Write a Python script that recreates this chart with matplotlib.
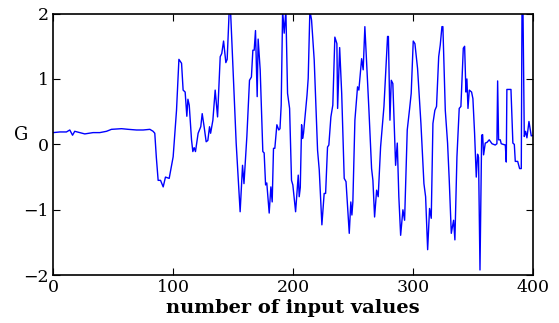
import matplotlib.pyplot as plt

# keypoints
x_vals = [0, 5.6, 11.1, 13.9, 16.2, 18, 22.2, 26.4, 33.3, 38.9, 44.5, 48.6, 57, 62.6,
          69.5, 75, 80.6, 83.3, 84.7, 86, 87.5, 89.5, 91.7, 93.6, 96.7, 100, 102.8,
          104.8, 107, 108.3, 110, 111.4, 112.3, 113.4, 115.3, 116.4, 117.5, 118.6,
          120.8, 123, 124.2, 125.8, 127.5, 128.9, 130.3, 131.2, 133.1, 135, 137,
          139.2, 140.5, 142, 143.9, 145, 146.7, 147.8, 152.5, 155.8, 157.8, 159,
          161.4, 163.6, 165.2, 166.4, 167.5, 168.6, 170, 170.8, 172.5, 174.7, 175.8,
          177, 178, 180, 181.4, 182.5, 183.6, 184.7, 186.4, 188, 189, 190, 191.2,
          192.5, 193.9, 195.3, 197, 198.6, 199.7, 202, 204.2, 205, 205.9, 207,
          207.8, 208.6, 211.5, 212.5, 213.9, 215.3, 217.5, 220.3, 221.7, 223.9,
          225.8, 227, 228.6, 229.7, 231.4, 233, 234.7, 236.4, 237, 238.7, 240.4,
          242.5, 244, 246.7, 248, 248.9, 249.7, 251.4, 253.6, 254.7, 257, 258.3,
          259.7, 263.1, 265.3, 266.4, 267.8, 269.5, 270.8, 272.8, 275.6, 278.6,
          279.3, 280.6, 281.7, 283, 285.3, 286.7, 288, 289.5, 291.4, 292.8, 295,
          297, 298.3, 300, 301.4, 303.6, 306.4, 308.9, 310.3, 312, 313.6, 315,
          316.4, 318, 319.4, 321.2, 322.5, 323.9, 324.7, 326.7, 328.6, 330, 331.7,
          333.6, 334.7, 336.4, 338.3, 339.7, 341.7, 342.8, 343.9, 344.7, 345.6,
          346.7, 348.6, 349.7, 351.1, 352.5, 353.6, 354.4, 355.6, 357, 357.8,
          358.6, 360, 361.4, 363.3, 365.6, 368.3, 369.7, 370.3, 371.1, 372.5,
          373.3, 376.7, 377.5, 378, 380.8, 381.4, 383, 384.2, 385, 387, 388.6, 390,
          390.6, 391.4, 392.5, 393.6, 394.7, 396.4, 398.3, 400]
g_vals = [0.18, 0.19, 0.19, 0.22, 0.14, 0.2, 0.18, 0.16, 0.18, 0.18, 0.2, 0.23, 0.24,
          0.23, 0.22, 0.22, 0.23, 0.2, 0.17, -0.2, -0.55, -0.55, -0.65, -0.5, -0.52,
          -0.19, 0.52, 1.3, 1.24, 0.83, 0.8, 0.43, 0.69, 0.6, 0.07, -0.11, -0.05,
          -0.11, 0.17, 0.27, 0.47, 0.27, 0.04, 0.06, 0.27, 0.17, 0.37, 0.83, 0.42,
          1.34, 1.39, 1.58, 1.25, 1.3, 2.05, 2.05, 0.02, -1.03, -0.32, -0.6, 0.12,
          0.98, 1.03, 1.44, 1.44, 1.74, 0.73, 1.61, 1.14, -0.11, -0.13, -0.62,
          -0.59, -1.05, -0.65, -0.88, -0.06, -0.06, 0.3, 0.22, 0.24, 0.6, 2.05,
          1.7, 2.05, 0.78, 0.55, -0.55, -0.62, -1.03, -0.47, -0.8, -0.66, 0.3,
          0.09, 0.17, 0.75, 1.01, 2.05, 1.9, 1.29, -0.09, -0.39, -1.23, -0.75,
          -0.75, -0.04, -0.01, 0.42, 0.6, 1.64, 1.54, 0.55, 1.48, 0.78, -0.52,
          -0.57, -1.36, -0.88, -1.08, -0.88, 0.37, 0.88, 0.83, 1.31, 1.14, 1.8,
          0.52, -0.37, -0.55, -1.11, -0.7, -0.8, -0.04, 0.58, 1.65, 1.65, 0.37,
          0.98, 0.93, -0.32, 0.02, -0.8, -1.39, -1.0, -1.16, 0.22, 0.55, 0.78, 1.58,
          1.54, 1.16, 0.32, -0.6, -0.8, -1.61, -0.98, -1.13, 0.32, 0.52, 0.58,
          1.34, 1.52, 1.8, 1.8, 0.52, 0.02, -0.55, -1.36, -1.16, -1.46, -0.19,
          0.55, 0.58, 1.47, 1.5, 0.8, 1.0, 0.55, 0.83, 0.8, 0.7, 0.17, -0.5,
          -0.15, -0.2, -1.92, 0.14, 0.15, -0.16, 0.02, 0.03, 0.07, 0.01, -0.01,
          0.01, 0.97, 0.07, 0.07, 0.01, -0.01, -0.27, 0.84, 0.84, 0.84, 0.02,
          0.0, -0.26, -0.26, -0.37, -0.37, 2.1, 2.1, 0.12, 0.2, 0.1, 0.35, 0.13,
          0.14]

xticks = [0, 100, 200, 300, 400]
yticks = [-2, -1, 0, 1, 2]

plt.rcParams['font.family'] = 'DejaVu Serif'

fig = plt.figure(figsize=(5.59, 3.23), dpi=100)
ax = fig.add_axes([0.095, 0.148, 0.859, 0.81])

ax.plot(x_vals, g_vals, color='#0000ff', linewidth=1.0)

ax.set_xlim(0, 400)
ax.set_ylim(-2, 2)
ax.set_xticks(xticks)
ax.set_yticks(yticks)
ax.tick_params(direction='in', top=True, right=True, length=5, labelsize=12.5, pad=3)
for s in ax.spines.values():
    s.set_linewidth(1.2)

ax.set_xlabel('number of input values', fontsize=14, fontweight='bold')
ax.xaxis.set_label_coords(0.5, -0.09)
ax.set_ylabel('G', fontsize=13, rotation=0, va='center', ha='center')
ax.yaxis.set_label_coords(-0.067, 0.536)

fig.savefig('out.png', dpi=100)
